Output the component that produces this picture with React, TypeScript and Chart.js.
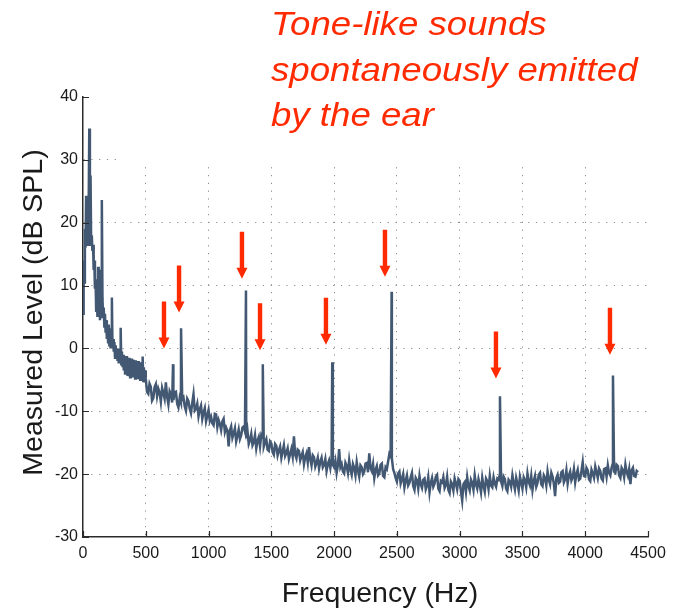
import React, { useEffect, useRef } from "react";
import { Chart, registerables } from "chart.js";

Chart.register(...registerables);

// ---------- data ----------
const xTickValues = [0, 500, 1000, 1500, 2000, 2500, 3000, 3500, 4000, 4500];
const yTickValues = [-30, -20, -10, 0, 10, 20, 30, 40];

// low-frequency part of the spectrum: 0 .. 495 Hz, every 5 Hz (dB SPL)
const lowStartHz = 0;
const lowStepHz = 5;
const lowLevels = [
  5.5, 14, 10.5, 19, 16, 24.3, 17, 23, 16.5, 22,
  35, 18, 27.5, 16.5, 18, 15.5, 16.5, 12.5, 14, 9.5,
  11, 6, 8.5, 5, 13, 5.5, 12.5, 4.5, 7, 5,
  23.6, 8, 5, 6.5, 3.5, 5.5, 2.5, 4.5, 1.5, 3.5,
  1, 3.8, 0.5, 2.5, 0, 3, 8.1, 0, 1.5, -0.5,
  1, -1.5, 0.5, -1.2, 0, -2, -0.5, -2.4, 0, -2,
  3.3, -2.5, -0.5, -3, -1, -3.5, -1.2, -4, -1.5, -3.6,
  -1.2, -4.4, -1.8, -4, -1.5, -4.6, -2, -3.8, -1.6, -4.6,
  -1.8, -4.2, -2.2, -4.8, -1.9, -4.5, -2.4, -4.9, -2, -4.6,
  -2.5, -5, -2.2, -4.7, -2.8, -1.3, -5.2, -3, -5.4, -3.5,
];

// rest of the spectrum: 500 .. 4420 Hz, every 10 Hz (dB SPL)
const highStartHz = 500;
const highStepHz = 10;
const highLevels = [
  -4.8, -6.9, -7.2, -5.6, -6.1, -8.3, -7.9, -6.2, -5.7, -7.6,
  -6.4, -7.0, -8.5, -6.3, -7.1, -8.0, -5.4, -7.7, -8.9, -6.8,
  -7.3, -8.6, -8.2, -7.0, -6.9, -8.8, -9.4, -7.9, -8.6, -8.1,
  -7.8, -9.2, -9.9, -8.0, -8.4, -9.6, -10.3, -8.7, -7.3, -9.9,
  -9.6, -8.8, -10.8, -9.7, -9.1, -11.2, -10.2, -9.5, -11.6, -10.7,
  -9.8, -11.5, -10.9, -11.9, -12.2, -10.4, -10.5, -12.5, -11.4, -12.0,
  -13.0, -11.6, -11.2, -13.3, -12.6, -13.1, -15.6, -13.0, -12.4, -14.2,
  -13.5, -12.7, -14.8, -13.9, -12.9, -14.4, -13.8, -12.6, -12.4, -13.2,
  -14.3, -13.1, -15.2, -14.6, -13.6, -15.4, -14.9, -13.8, -15.9, -14.7,
  -14.1, -15.6, -13.8, -14.2, -15.6, -14.9, -14.4, -16.1, -16.3, -14.8,
  -15.1, -16.5, -16.9, -15.2, -15.5, -17.0, -16.2, -15.6, -17.4, -16.4,
  -15.4, -17.1, -16.6, -15.9, -17.6, -16.8, -16.0, -17.2, -14.0, -16.9,
  -17.5, -16.1, -16.3, -17.8, -17.1, -16.5, -18.4, -17.3, -16.7, -18.1,
  -15.7, -17.6, -18.6, -17.0, -17.3, -18.8, -18.2, -17.4, -19.1, -18.0,
  -17.4, -18.9, -18.5, -17.6, -19.5, -18.4, -17.8, -19.0, -17.6, -18.5,
  -18.9, -17.9, -19.8, -18.6, -16.0, -18.9, -18.4, -19.6, -19.9, -18.2,
  -18.7, -19.8, -17.8, -19.3, -20.1, -18.4, -19.0, -20.2, -18.1, -19.4,
  -20.4, -18.6, -18.9, -20.0, -19.6, -18.3, -18.2, -19.7, -16.7, -19.0,
  -19.5, -18.4, -20.6, -19.3, -18.7, -20.2, -19.9, -18.5, -18.3, -20.3,
  -20.5, -18.9, -19.2, -18.0, -16.8, -17.2, -17.5, -19.2, -19.8, -20.6,
  -21.2, -19.9, -19.6, -21.5, -20.8, -20.0, -22.1, -21.0, -20.2, -21.8,
  -21.4, -20.5, -19.8, -21.9, -22.5, -20.6, -21.0, -22.3, -20.3, -21.6,
  -22.2, -20.9, -20.7, -22.4, -21.8, -20.5, -22.9, -21.4, -20.6, -22.0,
  -21.5, -20.4, -20.1, -22.3, -22.7, -21.1, -21.3, -20.5, -22.2, -21.7,
  -20.4, -22.5, -23.0, -21.2, -21.6, -22.6, -20.7, -21.5, -22.4, -20.8,
  -21.1, -22.7, -24.2, -21.6, -21.3, -22.8, -20.5, -21.9, -22.6, -20.9,
  -21.4, -22.5, -20.2, -21.6, -22.3, -20.8, -21.7, -22.9, -20.6, -21.9,
  -22.8, -20.7, -21.1, -22.4, -20.3, -21.8, -22.1, -20.5, -21.5, -22.0,
  -20.7, -20.9, -20.0, -21.2, -21.9, -20.4, -20.8, -22.3, -22.7, -20.9,
  -21.2, -22.0, -20.2, -21.4, -22.4, -20.6, -21.5, -22.6, -20.4, -21.3,
  -22.3, -20.5, -21.0, -22.1, -19.9, -21.2, -21.8, -20.3, -22.5, -21.1,
  -20.3, -22.0, -21.4, -20.1, -19.8, -21.6, -21.9, -20.2, -20.6, -21.8,
  -19.6, -20.9, -21.6, -19.8, -20.4, -21.5, -23.5, -20.6, -20.1, -21.4,
  -21.2, -19.7, -19.5, -21.3, -20.8, -19.4, -21.5, -20.2, -19.6, -21.0,
  -20.5, -19.2, -21.3, -20.0, -19.3, -20.9, -20.7, -19.5, -18.1, -20.3,
  -20.4, -19.0, -19.4, -20.8, -21.1, -19.3, -19.9, -20.6, -18.8, -19.7,
  -20.6, -19.1, -19.5, -20.7, -21.0, -19.2, -19.1, -20.4, -18.6, -19.8,
  -20.2, -19.0, -18.3, -19.6, -19.8, -18.5, -18.7, -20.2, -20.6, -19.0,
  -19.4, -20.5, -18.5, -19.7, -20.3, -19.2, -21.6, -19.4, -19.0, -20.3,
  -20.4, -19.5, -19.7,
];

// narrow spontaneous otoacoustic emission peaks
const peakFreqs = [717, 781, 1298, 1432, 1985, 2458, 3321, 4221];
const peakLevels = [-2.5, 3.2, 9.2, -2.5, -2.2, 9.0, -7.6, -4.3];

// red arrows (tip position, in data units)
const arrowFreqs = [645, 765, 1266, 1410, 1935, 2405, 3289, 4197];
const arrowTipLevels = [0, 5.7, 11.1, -0.3, 0.6, 11.4, -4.8, -1.0];

const titleLines = ["Tone-like sounds", "spontaneously emitted", "by the ear"];
const xTitle = "Frequency (Hz)";
const yTitle = "Measured Level (dB SPL)";

// ---------- styles ----------
const FONT = '"Liberation Sans", Arial, Helvetica, sans-serif';
const LINE_COLOR = "#425873";
const RED = "#ff2a00";
const AXIS_COLOR = "#2b2b2b";
const GRID_COLOR = "#8c8c8c";

export default function App() {
  const canvasRef = useRef<HTMLCanvasElement | null>(null);

  useEffect(() => {
    const canvas = canvasRef.current;
    if (!canvas) return;

    const pts: { x: number; y: number }[] = [];
    lowLevels.forEach((v, i) => pts.push({ x: lowStartHz + i * lowStepHz, y: v }));
    highLevels.forEach((v, i) => pts.push({ x: highStartHz + i * highStepHz, y: v }));
    peakFreqs.forEach((f, i) => pts.push({ x: f, y: peakLevels[i] }));
    pts.sort((a, b) => a.x - b.x);

    const overlay = {
      id: "overlay",
      beforeDatasetsDraw(chart: any) {
        // white text box of the annotation hides the upper grid
        const { ctx, chartArea } = chart;
        ctx.save();
        ctx.fillStyle = "#ffffff";
        ctx.fillRect(chartArea.left + 39, 0, chart.width, chartArea.top + 68);
        ctx.restore();
      },
      afterDatasetsDraw(chart: any) {
        const { ctx } = chart;
        const xs = chart.scales.x;
        const ys = chart.scales.y;
        ctx.save();
        ctx.fillStyle = RED;
        arrowFreqs.forEach((f, i) => {
          const px = xs.getPixelForValue(f);
          const tip = ys.getPixelForValue(arrowTipLevels[i]);
          const len = 47;
          const headH = 11;
          const headW = 5.5;
          const shaftW = 2.2;
          ctx.beginPath();
          ctx.moveTo(px - shaftW, tip - len);
          ctx.lineTo(px + shaftW, tip - len);
          ctx.lineTo(px + shaftW, tip - headH);
          ctx.lineTo(px + headW, tip - headH);
          ctx.lineTo(px, tip);
          ctx.lineTo(px - headW, tip - headH);
          ctx.lineTo(px - shaftW, tip - headH);
          ctx.closePath();
          ctx.fill();
        });
        ctx.restore();
      },
      afterDraw(chart: any) {
        const { ctx, chartArea } = chart;
        const xs = chart.scales.x;
        const ys = chart.scales.y;
        ctx.save();
        // inward tick marks
        ctx.strokeStyle = AXIS_COLOR;
        ctx.lineWidth = 1.2;
        ctx.beginPath();
        yTickValues.forEach((v) => {
          const y = Math.round(ys.getPixelForValue(v)) + 0.5;
          ctx.moveTo(chartArea.left, y);
          ctx.lineTo(chartArea.left + 6, y);
        });
        xTickValues.forEach((v) => {
          const x = Math.round(xs.getPixelForValue(v)) + 0.5;
          ctx.moveTo(x, chartArea.bottom);
          ctx.lineTo(x, chartArea.bottom - 6);
        });
        ctx.stroke();

        // axis titles
        ctx.fillStyle = "#1a1a1a";
        ctx.font = `28.5px ${FONT}`;
        ctx.textAlign = "center";
        ctx.textBaseline = "alphabetic";
        ctx.fillText(xTitle, 380, 602);
        ctx.save();
        ctx.translate(42, 312.5);
        ctx.rotate(-Math.PI / 2);
        ctx.fillText(yTitle, 0, 0);
        ctx.restore();

        // annotation (slightly wide lettering, as in the original)
        ctx.fillStyle = RED;
        ctx.font = `italic 33px ${FONT}`;
        ctx.textAlign = "left";
        const baselines = [35, 81, 126];
        titleLines.forEach((t, i) => {
          ctx.save();
          ctx.translate(271, baselines[i]);
          ctx.scale(1.11, 1);
          ctx.fillText(t, 0, 0);
          ctx.restore();
        });
        ctx.restore();
      },
    };

    const chart = new Chart(canvas, {
      type: "line",
      data: {
        datasets: [
          {
            data: pts,
            borderColor: LINE_COLOR,
            borderWidth: 2.5,
            pointRadius: 0,
            tension: 0,
            borderJoinStyle: "miter",
            fill: false,
          },
        ],
      },
      options: {
        animation: false,
        responsive: false,
        events: [],
        layout: { padding: { top: 97, right: 38, left: 0, bottom: 0 } },
        plugins: { legend: { display: false }, tooltip: { enabled: false } },
        scales: {
          x: {
            type: "linear",
            min: 0,
            max: 4500,
            afterFit: (s: any) => {
              s.height = 74;
            },
            afterBuildTicks: (s: any) => {
              s.ticks = xTickValues.map((v) => ({ value: v }));
            },
            ticks: {
              color: "#1a1a1a",
              font: { family: FONT, size: 16 },
              padding: 7,
              maxRotation: 0,
              callback: (v: any) => String(v),
            },
            grid: {
              drawTicks: false,
              lineWidth: 1,
              color: (c: any) =>
                c.tick && (c.tick.value === 0 || c.tick.value === 4500) ? "rgba(0,0,0,0)" : GRID_COLOR,
            },
            border: { display: true, color: AXIS_COLOR, width: 1.5, dash: [1.2, 6.6] },
          },
          y: {
            type: "linear",
            min: -30,
            max: 40,
            afterFit: (s: any) => {
              s.width = 83;
            },
            afterBuildTicks: (s: any) => {
              s.ticks = yTickValues.map((v) => ({ value: v }));
            },
            ticks: {
              color: "#1a1a1a",
              font: { family: FONT, size: 16 },
              padding: 5,
              callback: (v: any) => String(v),
            },
            grid: {
              drawTicks: false,
              lineWidth: 1,
              color: (c: any) =>
                c.tick && (c.tick.value === -30 || c.tick.value === 40) ? "rgba(0,0,0,0)" : GRID_COLOR,
            },
            border: { display: true, color: AXIS_COLOR, width: 1.5, dash: [1.2, 6.6] },
          },
        },
      },
      plugins: [overlay],
    } as any);

    return () => chart.destroy();
  }, []);

  return (
    <div style={{ position: "absolute", left: 0, top: 0, width: 686, height: 611, background: "#fff" }}>
      <canvas ref={canvasRef} width={686} height={611} style={{ display: "block", width: 686, height: 611 }} />
    </div>
  );
}
